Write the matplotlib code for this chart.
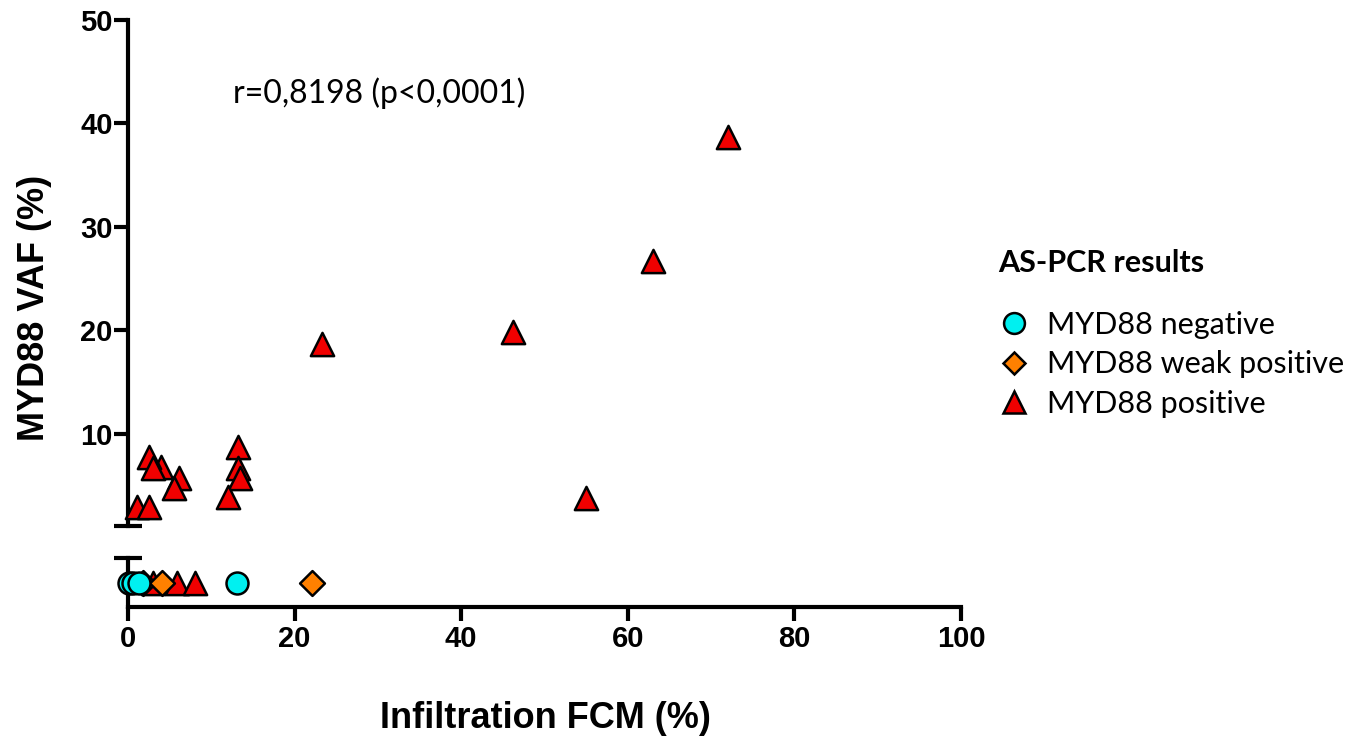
import numpy as np
import matplotlib.pyplot as plt
from matplotlib.lines import Line2D

# upper part (detected VAF)
pos_x = [72, 63, 46.2, 55, 23.3, 13.2, 13.2, 13.5, 12, 6.1, 5.5, 4, 2.5, 3, 1.1, 2.5]
pos_y = [38.7, 26.7, 19.8, 3.8, 18.7, 8.7, 6.7, 5.7, 3.9, 5.7, 4.8, 6.8, 7.8, 6.7, 2.9, 2.9]

# lower part (VAF not detectable)
neg_x = [0.1, 0.6, 1.3, 13.1]
weak_x = [1.8, 4.1, 22.1]
pos0_x = [3.0, 5.9, 8.1]

W, H = 1366, 744
fig = plt.figure(figsize=(W / 100, H / 100), dpi=100)

def px_axes(x0, y0, x1, y1):
    return fig.add_axes([x0 / W, 1 - y1 / H, (x1 - x0) / W, (y1 - y0) / H])

ax_top = px_axes(128, 20, 961, 526)
ax_bot = px_axes(128, 558, 961, 607)

bold = dict(family="Liberation Sans", weight="bold")
lw = 3
tick_fs = 21

c_neg = "#00F0F0"
c_weak = "#FF8000"
c_pos = "#F00000"
mk = dict(edgecolors="black", linewidths=1.8, clip_on=False, zorder=3)

ax_top.scatter(pos_x, pos_y, marker="^", s=280, c=c_pos, **mk)
ax_top.set_xlim(0, 100)
ax_top.set_ylim(1.1, 50)
ax_top.set_yticks([10, 20, 30, 40, 50])
ax_top.set_yticks([1.1], minor=True)
ax_top.set_xticks([])
for s in ["top", "right", "bottom"]:
    ax_top.spines[s].set_visible(False)
ax_top.spines["left"].set_linewidth(lw)
ax_top.tick_params(axis="y", which="major", length=10, width=lw, pad=1)
ax_top.tick_params(axis="y", which="minor", direction="inout", length=20, width=lw)
for t in ax_top.get_yticklabels():
    t.set_fontproperties(bold)
    t.set_fontsize(tick_fs)

ax_bot.scatter(pos0_x, np.zeros(len(pos0_x)), marker="^", s=280, c=c_pos, **mk)
ax_bot.scatter(weak_x, np.zeros(len(weak_x)), marker="D", s=160, c=c_weak, **mk)
ax_bot.scatter(neg_x, np.zeros(len(neg_x)), marker="o", s=250, c=c_neg, **mk)
ax_bot.set_xlim(0, 100)
ax_bot.set_ylim(-1, 1)
ax_bot.set_yticks([])
ax_bot.set_yticks([1], minor=True)
ax_bot.set_xticks([0, 20, 40, 60, 80, 100])
for s in ["top", "right"]:
    ax_bot.spines[s].set_visible(False)
ax_bot.spines["left"].set_linewidth(lw)
ax_bot.spines["bottom"].set_linewidth(lw)
ax_bot.tick_params(axis="y", which="minor", direction="inout", length=20, width=lw)
ax_bot.tick_params(axis="x", length=10, width=lw, pad=3)
for t in ax_bot.get_xticklabels():
    t.set_fontproperties(bold)
    t.set_fontsize(tick_fs)

fig.text(35 / W, 1 - 308 / H, "MYD88 VAF (%)", rotation=90, ha="center", va="center",
         fontsize=26, **bold)
fig.text(545 / W, 1 - 718 / H, "Infiltration FCM (%)", ha="center", va="center",
         fontsize=26, **bold)
fig.text(233 / W, 1 - 93 / H, "r=0,8198 (p<0,0001)", ha="left", va="center",
         fontsize=23, family="Lato")

handles = [
    Line2D([], [], ls="none", marker="o", ms=15, mfc=c_neg, mec="black", mew=1.8),
    Line2D([], [], ls="none", marker="D", ms=11, mfc=c_weak, mec="black", mew=1.8),
    Line2D([], [], ls="none", marker="^", ms=16, mfc=c_pos, mec="black", mew=1.8),
]
labels = ["MYD88 negative", "MYD88 weak positive", "MYD88 positive"]
leg = fig.legend(handles, labels, loc="upper left", bbox_to_anchor=(971 / W, 1 - 222 / H),
                 frameon=False, title="AS-PCR results", alignment="left",
                 prop=dict(family="Lato", size=22),
                 title_fontproperties=dict(family="Lato", weight="bold", size=22),
                 handlelength=1.0, handletextpad=0.6, labelspacing=0.38)
leg._legend_box.sep = 24

fig.savefig("out.png", dpi=100)
